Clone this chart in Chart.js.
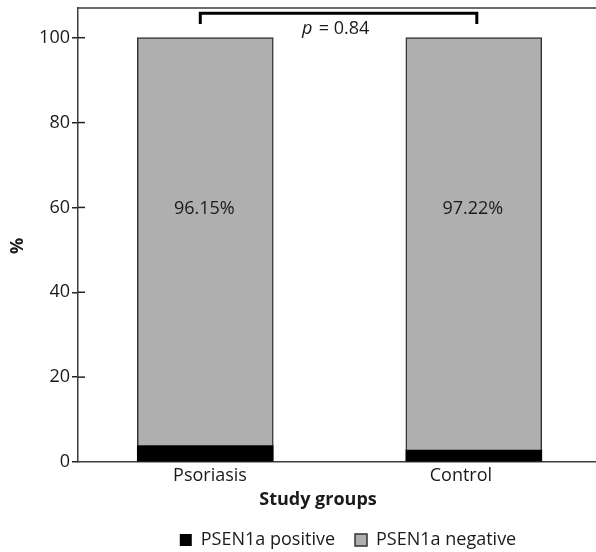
<!DOCTYPE html>
<html>
<head>
<meta charset="utf-8">
<script src="https://cdn.jsdelivr.net/npm/chart.js@4/dist/chart.umd.min.js"></script>
<style>
html,body{margin:0;padding:0;background:#fff;}
#wrap{width:596px;height:552px;position:relative;}
</style>
</head>
<body>
<div id="wrap"><canvas id="c" width="596" height="552"></canvas></div>
<script>
const categories = ['Psoriasis', 'Control'];
const positiveValues = [3.85, 2.78];
const negativeValues = [96.15, 97.22];
const barLabels = ['96.15%', '97.22%'];
const yTicks = [0, 20, 40, 60, 80, 100];
const seriesNames = ['PSEN1a positive', 'PSEN1a negative'];
const pText = '= 0.84';

const FONT = "'Open Sans', sans-serif";
const TXT = '#1a1a1a';
const AX = '#3d3d3d';

const overlay = {
  id: 'overlay',
  afterLayout(chart) {
    const lg = chart.legend;
    if (lg) {
      const dx = 50;
      lg.left += dx; lg.right += dx;
      const h = lg.height;
      lg.top = 511; lg.bottom = 511 + h;
    }
  },
  afterDraw(chart) {
    const ctx = chart.ctx;
    const a = chart.chartArea;
    const xs = chart.scales.x, ys = chart.scales.y;
    ctx.save();
    // top border
    ctx.strokeStyle = AX; ctx.lineWidth = 1.5;
    ctx.beginPath(); ctx.moveTo(a.left - 0.75, a.top); ctx.lineTo(a.right, a.top); ctx.stroke();
    // inner tick marks
    ctx.strokeStyle = '#222'; ctx.lineWidth = 1.5;
    yTicks.forEach(v => {
      const y = ys.getPixelForValue(v);
      if (v === 0) return;
      ctx.beginPath(); ctx.moveTo(a.left, y); ctx.lineTo(a.left + 7, y); ctx.stroke();
    });
    // bracket
    const bx1 = xs.getPixelForValue(0) - 5, bx2 = xs.getPixelForValue(1) + 3;
    const byTop = ys.getPixelForValue(105.75), byBot = ys.getPixelForValue(103.2);
    ctx.strokeStyle = '#000'; ctx.lineWidth = 3; ctx.lineJoin = 'miter';
    ctx.beginPath(); ctx.moveTo(bx1, byBot); ctx.lineTo(bx1, byTop); ctx.lineTo(bx2, byTop); ctx.lineTo(bx2, byBot); ctx.stroke();
    // p text
    ctx.fillStyle = TXT; ctx.textBaseline = 'middle'; ctx.textAlign = 'left';
    ctx.font = 'italic 18px ' + FONT;
    const px = 302, py = 29;
    ctx.fillText('p', px, py);
    ctx.font = '18px ' + FONT;
    ctx.fillText(' ' + pText, px + ctx.measureText('p').width + 1, py);
    // bar labels
    ctx.textAlign = 'center';
    barLabels.forEach((t, i) => {
      ctx.fillText(t, xs.getPixelForValue(i) - 1, ys.getPixelForValue(60) + 1);
    });
    // axis titles
    ctx.font = 'bold 18px ' + FONT;
    ctx.fillText('Study groups', 318, 500);
    ctx.translate(18, 246); ctx.rotate(-Math.PI / 2);
    ctx.fillText('%', 0, 0);
    ctx.restore();
  }
};

new Chart(document.getElementById('c'), {
  type: 'bar',
  data: {
    datasets: [
      {
        label: seriesNames[0],
        data: categories.map((c, i) => ({ x: i, y: positiveValues[i] })),
        backgroundColor: '#000000',
        borderColor: '#000000',
        borderWidth: 0,
        barThickness: 136
      },
      {
        label: seriesNames[1],
        data: categories.map((c, i) => ({ x: i, y: negativeValues[i] })),
        backgroundColor: '#afafaf',
        borderColor: '#333333',
        borderWidth: 1.5,
        borderSkipped: 'bottom',
        barThickness: 136
      }
    ]
  },
  options: {
    responsive: false,
    animation: false,
    events: [],
    layout: { padding: { top: 8, left: 0, right: 0, bottom: 0 } },
    plugins: {
      tooltip: { enabled: false },
      legend: {
        position: 'bottom',
        labels: {
          boxWidth: 12, boxHeight: 12, padding: 20,
          color: TXT, font: { family: FONT, size: 18 }
        }
      }
    },
    scales: {
      x: {
        type: 'linear',
        stacked: true,
        offset: false,
        grace: 0,
        min: -0.474,
        max: 1.455,
        afterFit: s => { s.height = 42; s.paddingLeft = 0; s.paddingRight = 0; },
        afterBuildTicks: s => { s.ticks = [{ value: 0.0175 }, { value: 0.952 }]; },
        grid: { display: false, drawTicks: false, offset: false },
        border: { display: true, color: AX, width: 1.5 },
        ticks: {
          padding: 3, color: TXT, font: { family: FONT, size: 18 },
          maxRotation: 0, autoSkip: false,
          callback: (v, i) => categories[i]
        }
      },
      y: {
        stacked: true,
        min: 0,
        max: 107,
        afterFit: s => { s.width = 78; s.paddingTop = 0; s.paddingBottom = 0; },
        afterBuildTicks: s => { s.ticks = yTicks.map(v => ({ value: v })); },
        grid: { display: true, drawOnChartArea: false, drawTicks: true, tickLength: 6, color: '#222', lineWidth: 1.5 },
        border: { display: true, color: AX, width: 1.5 },
        ticks: { padding: 2, color: TXT, font: { family: FONT, size: 18 } }
      }
    }
  },
  plugins: [overlay]
});
</script>
</body>
</html>
